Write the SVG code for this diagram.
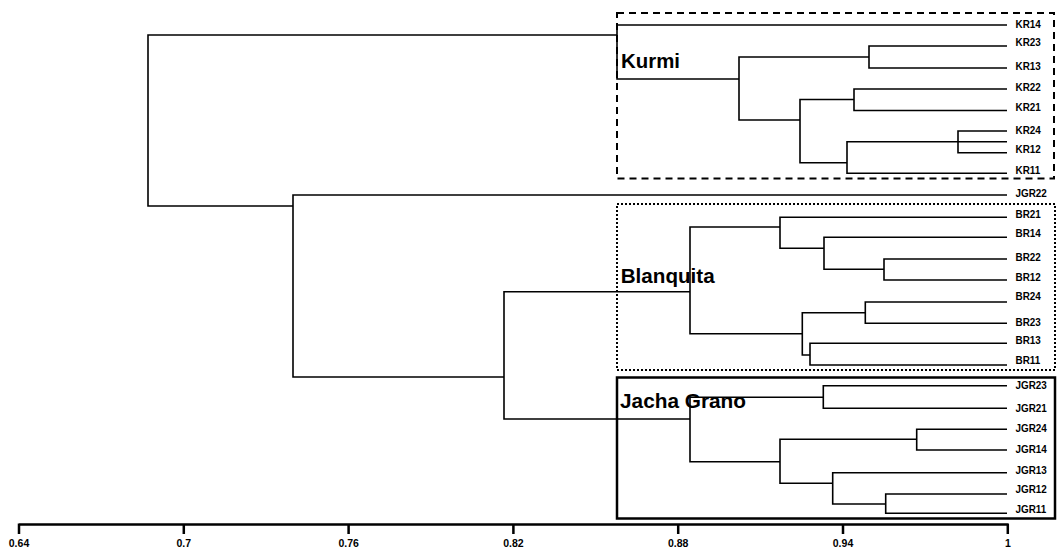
<svg xmlns="http://www.w3.org/2000/svg" width="1057" height="547" viewBox="0 0 1057 547">
<style>
.br{fill:none;stroke:#000;stroke-width:1.6;stroke-linejoin:miter}
.leaf text{font-family:"Liberation Sans",Arial,sans-serif;font-weight:bold;font-size:11px;fill:#000}
.clab{font-family:"Liberation Sans",Arial,sans-serif;font-weight:bold;font-size:19.5px;fill:#000}
.tick{font-family:"Liberation Sans",Arial,sans-serif;font-weight:bold;font-size:10.5px;fill:#000;text-anchor:middle}
.ax{fill:none;stroke:#000;stroke-width:2.5}
</style>
<rect width="1057" height="547" fill="#fff"/>
<g id="cluster-boxes">
<rect id="box-kurmi" x="617" y="13" width="437" height="165.5" fill="none" stroke="#000" stroke-width="2" stroke-dasharray="7 5"/>
<rect id="box-blanquita" x="617" y="204" width="438" height="166" fill="none" stroke="#000" stroke-width="2" stroke-dasharray="2 2"/>
<rect id="box-jacha" x="617" y="377.5" width="438" height="141" fill="none" stroke="#000" stroke-width="2.5"/>
</g>
<g id="connectors">
<path class="br" d="M617 35H148V206H293"/>
<path class="br" d="M1007 195H293V377H504"/>
<path class="br" d="M690 291.7H504V419H690"/>
<path class="br" d="M1007 25H617V79H739"/>
<path class="br" d="M869 57H739V120H800"/>
<path class="br" d="M1007 46H869V68H1007"/>
<path class="br" d="M854 99.5H800V162.7H847"/>
<path class="br" d="M1007 89H854V110.5H1007"/>
<path class="br" d="M1007 141.7H847V173.3H1007"/>
<path class="br" d="M1007 131H958V152.7H1007"/>
<path class="br" d="M780 227H690V333.7H802.3"/>
<path class="br" d="M1007 217.3H780V248.3H824"/>
<path class="br" d="M1007 237.3H824V269.3H884"/>
<path class="br" d="M1007 259H884V280H1007"/>
<path class="br" d="M865.3 312.7H802.3V355H810"/>
<path class="br" d="M1007 302H865.3V323.3H1007"/>
<path class="br" d="M1007 343.3H810V365H1007"/>
<path class="br" d="M823.3 397.3H690V461.7H780"/>
<path class="br" d="M1007 385.7H823.3V408.3H1007"/>
<path class="br" d="M916.7 439.3H780V483.3H832.7"/>
<path class="br" d="M1007 429.3H916.7V450H1007"/>
<path class="br" d="M1007 472.7H832.7V504H885.7"/>
<path class="br" d="M1007 494H885.7V513.3H1007"/>
</g>
<g id="cluster-labels">
<text id="lab-kurmi" class="clab" x="621" y="68.3" textLength="59" lengthAdjust="spacingAndGlyphs">Kurmi</text>
<text id="lab-blanquita" class="clab" x="620.7" y="282.5" textLength="94" lengthAdjust="spacingAndGlyphs">Blanquita</text>
<text id="lab-jacha" class="clab" x="620" y="407.8" textLength="126" lengthAdjust="spacingAndGlyphs">Jacha Grano</text>
</g>
<g id="KR14" class="leaf"><text transform="translate(1015.5 28) scale(0.9 1)">KR14</text></g>
<g id="KR23" class="leaf"><text transform="translate(1015.5 46) scale(0.9 1)">KR23</text></g>
<g id="KR13" class="leaf"><text transform="translate(1015.5 70) scale(0.9 1)">KR13</text></g>
<g id="KR22" class="leaf"><text transform="translate(1015.5 91) scale(0.9 1)">KR22</text></g>
<g id="KR21" class="leaf"><text transform="translate(1015.5 110.5) scale(0.9 1)">KR21</text></g>
<g id="KR24" class="leaf"><text transform="translate(1015.5 133.5) scale(0.9 1)">KR24</text></g>
<g id="KR12" class="leaf"><text transform="translate(1015.5 153) scale(0.9 1)">KR12</text></g>
<g id="KR11" class="leaf"><text transform="translate(1015.5 174) scale(0.9 1)">KR11</text></g>
<g id="JGR22" class="leaf"><text transform="translate(1015.5 197) scale(0.9 1)">JGR22</text></g>
<g id="BR21" class="leaf"><text transform="translate(1015.5 218) scale(0.9 1)">BR21</text></g>
<g id="BR14" class="leaf"><text transform="translate(1015.5 237.3) scale(0.9 1)">BR14</text></g>
<g id="BR22" class="leaf"><text transform="translate(1015.5 260.7) scale(0.9 1)">BR22</text></g>
<g id="BR12" class="leaf"><text transform="translate(1015.5 281.3) scale(0.9 1)">BR12</text></g>
<g id="BR24" class="leaf"><text transform="translate(1015.5 300) scale(0.9 1)">BR24</text></g>
<g id="BR23" class="leaf"><text transform="translate(1015.5 325.7) scale(0.9 1)">BR23</text></g>
<g id="BR13" class="leaf"><text transform="translate(1015.5 344) scale(0.9 1)">BR13</text></g>
<g id="BR11" class="leaf"><text transform="translate(1015.5 364) scale(0.9 1)">BR11</text></g>
<g id="JGR23" class="leaf"><text transform="translate(1015.5 389) scale(0.9 1)">JGR23</text></g>
<g id="JGR21" class="leaf"><text transform="translate(1015.5 412) scale(0.9 1)">JGR21</text></g>
<g id="JGR24" class="leaf"><text transform="translate(1015.5 432) scale(0.9 1)">JGR24</text></g>
<g id="JGR14" class="leaf"><text transform="translate(1015.5 453) scale(0.9 1)">JGR14</text></g>
<g id="JGR13" class="leaf"><text transform="translate(1015.5 474) scale(0.9 1)">JGR13</text></g>
<g id="JGR12" class="leaf"><text transform="translate(1015.5 493) scale(0.9 1)">JGR12</text></g>
<g id="JGR11" class="leaf"><text transform="translate(1015.5 513) scale(0.9 1)">JGR11</text></g>
<g id="axis">
<path class="ax" d="M19 524.5H1008M19 523.5V534M183.8 523.5V534M348.6 523.5V534M513.4 523.5V534M678.2 523.5V534M843 523.5V534M1007.8 523.5V534"/>
<text class="tick" x="19" y="547">0.64</text>
<text class="tick" x="183.8" y="547">0.7</text>
<text class="tick" x="348.6" y="547">0.76</text>
<text class="tick" x="513.4" y="547">0.82</text>
<text class="tick" x="678.2" y="547">0.88</text>
<text class="tick" x="843" y="547">0.94</text>
<text class="tick" x="1007.8" y="547">1</text>
</g>
</svg>
